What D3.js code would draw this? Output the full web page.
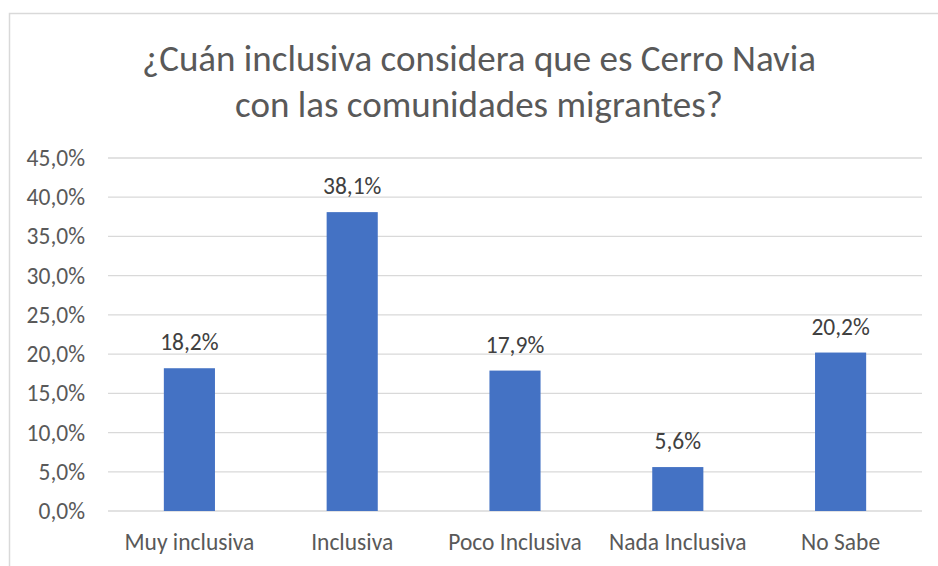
<!DOCTYPE html>
<html>
<head>
<meta charset="utf-8">
<script src="https://cdn.jsdelivr.net/npm/d3@7"></script>
<style>
  html, body { margin: 0; padding: 0; background: #fff; }
  svg { display: block; font-family: Carlito, Calibri, Lato, sans-serif; }
</style>
</head>
<body>
<script>
const categories = ["Muy inclusiva", "Inclusiva", "Poco Inclusiva", "Nada Inclusiva", "No Sabe"];
const values = [18.2, 38.1, 17.9, 5.6, 20.2];
const yTicks = [0, 5, 10, 15, 20, 25, 30, 35, 40, 45];
const titleLines = ["¿Cuán inclusiva considera que es Cerro Navia", "con las comunidades migrantes?"];

const W = 938, H = 566;
const margin = { left: 108, right: 16, top: 158, bottom: 55 };
const labelSize = "23.5px";
const svg = d3.select("body").append("svg").attr("width", W).attr("height", H);

// chart border (extends past the visible area on right/bottom)
svg.append("rect")
  .attr("x", 9.5).attr("y", 13.5).attr("width", 960).attr("height", 600)
  .attr("fill", "#fff").attr("stroke", "#d9d9d9").attr("stroke-width", 1.5);

const x = d3.scaleBand().domain(categories).range([margin.left, W - margin.right]).paddingInner(0.686).paddingOuter(0.343);
const y = d3.scaleLinear().domain([0, 45]).range([H - margin.bottom, margin.top]);

// gridlines
svg.append("g").selectAll("line").data(yTicks).join("line")
  .attr("x1", margin.left).attr("x2", W - margin.right)
  .attr("y1", d => y(d)).attr("y2", d => y(d))
  .attr("stroke", "#d9d9d9").attr("stroke-width", 1.3);

// y axis labels
const fmt = d => d3.format(".1f")(d).replace(".", ",") + "%";
const yAxis = d3.axisLeft(y).tickValues(yTicks).tickFormat(fmt).tickSize(0).tickPadding(23);
const ga = svg.append("g").attr("transform", `translate(${margin.left},0)`).call(yAxis);
ga.select(".domain").remove();
ga.selectAll("text").attr("fill", "#595959").style("font-size", labelSize).style("font-family", "Carlito, Calibri, Lato, sans-serif");

// x axis labels
const xAxis = d3.axisBottom(x).tickSize(0).tickPadding(22);
const gx = svg.append("g").attr("transform", `translate(0,${y(0)})`).call(xAxis);
gx.select(".domain").remove();
gx.selectAll("text").attr("fill", "#595959").style("font-size", labelSize).style("font-family", "Carlito, Calibri, Lato, sans-serif");

// bars
svg.append("g").selectAll("rect").data(values).join("rect")
  .attr("x", (d, i) => x(categories[i]))
  .attr("width", x.bandwidth())
  .attr("y", d => y(d))
  .attr("height", d => y(0) - y(d))
  .attr("fill", "#4472C4");

// data labels
svg.append("g").selectAll("text").data(values).join("text")
  .attr("x", (d, i) => x(categories[i]) + x.bandwidth() / 2)
  .attr("y", d => y(d) - 18)
  .attr("text-anchor", "middle")
  .attr("fill", "#404040")
  .style("font-size", labelSize)
  .text(d => fmt(d));

// title
svg.append("g").selectAll("text").data(titleLines).join("text")
  .attr("x", 479)
  .attr("y", (d, i) => 71 + i * 46)
  .attr("text-anchor", "middle")
  .attr("fill", "#595959")
  .style("font-size", "37px")
  .text(d => d);
</script>
</body>
</html>
